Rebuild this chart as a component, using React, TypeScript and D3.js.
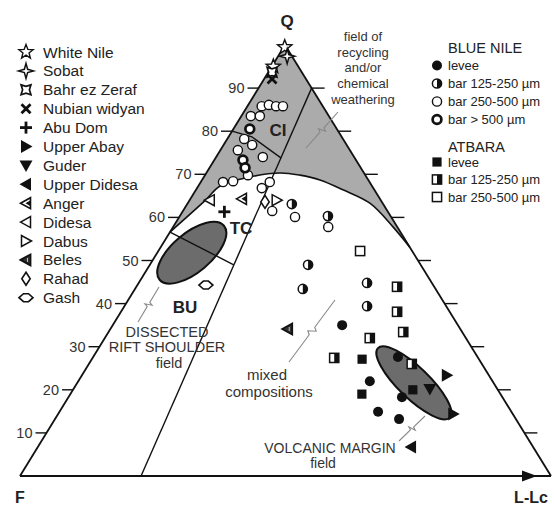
import React from 'react';
import * as d3 from 'd3';

// ---------- data (Q %, L-Lc %; F = 100 - Q - L) ----------
const qTicks = [10, 20, 30, 40, 50, 60, 70, 80, 90];

const whiteNile = [[99.5, 0.2], [95.0, 0.3]];
const sobat = [[97.4, 1.7]];
const bahrEzZeraf = [[93.7, 0.7]];
const nubianWidyan = [[92.1, 1.5]];
const abuDom = [[61.3, 7.9]];
const upperAbay = [[23.4, 68.7], [14.4, 74.4]];
const guder = [[20.2, 67.1]];
const upperDidesa = [[6.7, 70.3]];
const anger = [[64.3, 9.7]];
const didesa = [[64.0, 3.8]];
const dabus = [[64.0, 16.4]];
const beles = [[34.1, 33.4]];
const rahad = [[63.6, 14.4]];
const gash = [[44.3, 12.9]];

const blueLevee = [[35.0, 43.2], [27.6, 57.4], [22.0, 54.9], [18.3, 62.8], [14.9, 60.0], [13.2, 64.8]];
const blueBar125 = [[63.1, 19.7], [60.3, 27.9], [49.0, 29.8], [43.4, 31.6], [44.8, 43.0], [39.4, 45.7]];
const blueBar250 = [
  [85.8, 2.7], [86.1, 3.9], [85.8, 5.4], [85.8, 6.7], [83.5, 1.8], [83.5, 3.5],
  [78.2, 3.2], [76.8, 5.4], [75.6, 3.3], [74.0, 8.8], [69.8, 8.1], [68.2, 4.2],
  [68.4, 6.0], [66.8, 12.2], [68.2, 13.0], [61.5, 16.8], [60.1, 21.8], [57.8, 29.2],
];
const blueBar500 = [[80.5, 3.1], [73.3, 5.4], [71.5, 6.7]];
const atbaraLevee = [[27.1, 50.9], [19.0, 54.9], [20.0, 64.0]];
const atbaraBar125 = [[43.9, 49.1], [38.1, 52.0], [33.4, 55.5], [32.0, 49.9], [27.4, 45.5], [26.0, 60.8]];
const atbaraBar250 = [[52.2, 38.0]];

const riverNames = ['White Nile', 'Sobat', 'Bahr ez Zeraf', 'Nubian widyan', 'Abu Dom', 'Upper Abay', 'Guder',
  'Upper Didesa', 'Anger', 'Didesa', 'Dabus', 'Beles', 'Rahad', 'Gash'];
const riverSymbols = ['star5', 'star4', 'bahr', 'cross', 'plus', 'triR', 'triD', 'triL', 'triLhalf', 'triLopen',
  'triRopen', 'beles', 'diamond', 'hex'];
const riverData = [whiteNile, sobat, bahrEzZeraf, nubianWidyan, abuDom, upperAbay, guder, upperDidesa, anger,
  didesa, dabus, beles, rahad, gash];

const blueLabels = ['levee', 'bar 125-250 µm', 'bar 250-500 µm', 'bar > 500 µm'];
const blueSymbols = ['cFill', 'cHalf', 'cOpen', 'cThick'];
const blueData = [blueLevee, blueBar125, blueBar250, blueBar500];
const atbaraLabels = ['levee', 'bar 125-250 µm', 'bar 250-500 µm'];
const atbaraSymbols = ['sFill', 'sHalf', 'sOpen'];
const atbaraData = [atbaraLevee, atbaraBar125, atbaraBar250];

// field boundaries (Q, L)
const dickinsonLine = [[90, 10], [0, 22.8]];
const ciBoundary = [[80, 0], [78.7, 4.4], [73.8, 12.3]];
const tcBuBoundary = [[56.6, 0], [49, 15.8]];
const recyclingArc = [[56.6, 0], [64.0, 3.0], [67.3, 4.1], [69.4, 8.7], [70.3, 13.9], [69.8, 17.9],
  [68.7, 22.2], [66.4, 27.7], [63.3, 34.3], [57.8, 41.4], [53.1, 46.9]];
const riftFieldCenter = [51.8, 6.5];
const volcanicFieldCenter = [21.6, 63.4];

// ---------- geometry ----------
const FX = 20, LX = 551, QX = 285, BASE_Y = 476, TOP_Y = 45;
const yS = d3.scaleLinear().domain([0, 100]).range([BASE_Y, TOP_Y]);
const lS = d3.scaleLinear().domain([0, 100]).range([0, LX - FX]);
const qS = d3.scaleLinear().domain([0, 100]).range([0, QX - FX]);
const proj = (p: number[]) => [FX + lS(p[1]) + qS(p[0]), yS(p[0])];

const FONT = '"Liberation Sans", Arial, Helvetica, sans-serif';

function starPts(x: number, y: number, n: number, ro: number, ri: number, rot: number) {
  return d3.range(2 * n).map(i => {
    const a = rot + (i * Math.PI) / n;
    const r = i % 2 === 0 ? ro : ri;
    return [x + r * Math.cos(a), y + r * Math.sin(a)];
  }).join(' ');
}

function Sym({ t, x, y }: { t: string; x: number; y: number }) {
  const k = '#111';
  const r = 4.6;
  switch (t) {
    case 'star5':
      return <polygon points={starPts(x, y, 5, 7.5, 3.2, -Math.PI / 2)} fill="white" stroke={k} strokeWidth={1.4} />;
    case 'star4':
      return <polygon points={starPts(x, y, 4, 7.5, 2.3, -Math.PI / 2)} fill="white" stroke={k} strokeWidth={1.5} />;
    case 'bahr':
      return <polygon points={starPts(x, y, 4, 7, 3.4, -Math.PI / 4)} fill="white" stroke={k} strokeWidth={1.7} />;
    case 'cross':
      return <g stroke={k} strokeWidth={2.8}><line x1={x - 4.5} y1={y - 4.5} x2={x + 4.5} y2={y + 4.5} /><line x1={x - 4.5} y1={y + 4.5} x2={x + 4.5} y2={y - 4.5} /></g>;
    case 'plus':
      return <g stroke={k} strokeWidth={2.8}><line x1={x - 6} y1={y} x2={x + 6} y2={y} /><line x1={x} y1={y - 6} x2={x} y2={y + 6} /></g>;
    case 'triR':
      return <polygon points={`${x + 6.5},${y} ${x - 5},${y - 6.5} ${x - 5},${y + 6.5}`} fill={k} />;
    case 'triD':
      return <polygon points={`${x},${y + 6.5} ${x - 6.5},${y - 5} ${x + 6.5},${y - 5}`} fill={k} />;
    case 'triL':
      return <polygon points={`${x - 6.5},${y} ${x + 5},${y - 6.5} ${x + 5},${y + 6.5}`} fill={k} />;
    case 'triLopen':
      return <polygon points={`${x - 5.5},${y} ${x + 4.5},${y - 5.5} ${x + 4.5},${y + 5.5}`} fill="white" stroke={k} strokeWidth={1.5} />;
    case 'triRopen':
      return <polygon points={`${x + 5.5},${y} ${x - 4.5},${y - 5.5} ${x - 4.5},${y + 5.5}`} fill="white" stroke={k} strokeWidth={1.5} />;
    case 'triLhalf':
      return <g>
        <polygon points={`${x - 5.5},${y} ${x + 4.5},${y - 5.5} ${x + 4.5},${y + 5.5}`} fill="white" stroke={k} strokeWidth={1.6} />
        <polygon points={`${x - 0.5},${y} ${x + 4.5},${y - 3} ${x + 4.5},${y + 3}`} fill={k} />
      </g>;
    case 'beles':
      return <g>
        <polygon points={`${x - 5.5},${y} ${x + 4.5},${y - 5.5} ${x + 4.5},${y + 5.5}`} fill="#333" stroke={k} strokeWidth={1.8} />
        <line x1={x + 1.5} y1={y - 2} x2={x + 1.5} y2={y + 2} stroke="#bbb" strokeWidth={1} />
      </g>;
    case 'diamond':
      return <polygon points={`${x},${y - 6.5} ${x + 4.2},${y} ${x},${y + 6.5} ${x - 4.2},${y}`} fill="white" stroke={k} strokeWidth={1.6} />;
    case 'hex':
      return <polygon points={`${x - 7},${y} ${x - 2.5},${y - 4} ${x + 2.5},${y - 4} ${x + 7},${y} ${x + 2.5},${y + 4} ${x - 2.5},${y + 4}`} fill="white" stroke={k} strokeWidth={1.6} />;
    case 'cFill':
      return <circle cx={x} cy={y} r={r + 0.4} fill={k} />;
    case 'cHalf':
      return <g>
        <circle cx={x} cy={y} r={r} fill="white" />
        <path d={`M${x},${y - r} A${r},${r} 0 0 1 ${x},${y + r} Z`} fill={k} />
        <circle cx={x} cy={y} r={r} fill="none" stroke={k} strokeWidth={1.5} />
      </g>;
    case 'cOpen':
      return <circle cx={x} cy={y} r={r} fill="white" stroke={k} strokeWidth={1.4} />;
    case 'cThick':
      return <circle cx={x} cy={y} r={r - 0.2} fill="white" stroke={k} strokeWidth={2.7} />;
    case 'sFill':
      return <rect x={x - r} y={y - r} width={2 * r} height={2 * r} fill={k} />;
    case 'sHalf':
      return <g>
        <rect x={x - r} y={y - r} width={2 * r} height={2 * r} fill="white" />
        <rect x={x} y={y - r} width={r} height={2 * r} fill={k} />
        <rect x={x - r} y={y - r} width={2 * r} height={2 * r} fill="none" stroke={k} strokeWidth={1.5} />
      </g>;
    case 'sOpen':
      return <rect x={x - r} y={y - r} width={2 * r} height={2 * r} fill="white" stroke={k} strokeWidth={1.5} />;
    default:
      return null;
  }
}

function squiggle(x1: number, y1: number, x2: number, y2: number) {
  const dx = x2 - x1, dy = y2 - y1;
  const len = Math.hypot(dx, dy);
  const nx = -dy / len, ny = dx / len;
  const p = (t: number, o: number) => [x1 + dx * t + nx * o, y1 + dy * t + ny * o] as [number, number];
  return d3.line()([p(0, 0), p(0.44, 0), p(0.47, -3.5), p(0.53, 3.5), p(0.56, 0), p(1, 0)]) as string;
}

export default function App() {
  const apex = proj([100, 0]);
  const fV = proj([0, 0]);
  const lV = proj([0, 100]);

  const arcLine = d3.line().curve(d3.curveCatmullRom.alpha(0.5));
  const arcPts = recyclingArc.map(p => proj(p) as [number, number]);
  const arcD = arcLine(arcPts) as string;
  const grayD = `${arcD}L${apex[0]},${apex[1]}Z`;

  const straight = (pts: number[][]) => d3.line()(pts.map(p => proj(p) as [number, number])) as string;

  const rc = proj(riftFieldCenter);
  const vc = proj(volcanicFieldCenter);

  const textStyle = { fontFamily: FONT };

  return (
    <svg width={554} height={505} style={{ position: 'absolute', left: 0, top: 0, display: 'block', background: 'white' }}>
      {/* recycling / weathering field */}
      <path d={grayD} fill="#ababab" stroke="none" />
      {/* compositional fields */}
      <ellipse cx={rc[0]} cy={rc[1]} rx={42} ry={19.5} transform={`rotate(-40 ${rc[0]} ${rc[1]})`} fill="#6c6c6c" stroke="#111" strokeWidth={2} />
      <ellipse cx={vc[0]} cy={vc[1]} rx={50} ry={15.5} transform={`rotate(44 ${vc[0]} ${vc[1]})`} fill="#6c6c6c" stroke="#111" strokeWidth={2} />

      {/* internal boundaries */}
      <g fill="none" stroke="#111" strokeWidth={1.4}>
        <path d={straight(dickinsonLine)} />
        <path d={straight(ciBoundary)} />
        <path d={straight(tcBuBoundary)} />
        <path d={arcD} strokeWidth={1.6} />
      </g>

      {/* triangle */}
      <g stroke="#111" strokeWidth={1.8} fill="none">
        <line x1={fV[0]} y1={fV[1]} x2={apex[0]} y2={apex[1]} />
        <line x1={lV[0]} y1={lV[1]} x2={apex[0]} y2={apex[1]} />
        <line x1={fV[0]} y1={fV[1]} x2={lV[0]} y2={lV[1]} />
      </g>
      <polygon points={`${lV[0] - 14},${lV[1]} ${lV[0] - 29},${lV[1] - 5.5} ${lV[0] - 29},${lV[1] + 5.5}`} fill="#111" />

      {/* ticks */}
      {qTicks.map(q => {
        const a = proj([q, 0]);
        const b = proj([q, 100 - q]);
        return (
          <g key={q}>
            <line x1={a[0] - 11} y1={a[1]} x2={a[0]} y2={a[1]} stroke="#111" strokeWidth={1.4} />
            <line x1={b[0]} y1={b[1]} x2={b[0] + 13} y2={b[1]} stroke="#111" strokeWidth={1.4} />
            <text x={a[0] - 14} y={a[1] + 5} textAnchor="end" fontSize={14.5} fill="#333" style={textStyle}>{q}</text>
          </g>
        );
      })}

      {/* leaders */}
      <g fill="none" stroke="#888" strokeWidth={1.1}>
        <path d={squiggle(338, 112, 306, 148)} />
        <path d={squiggle(335, 300, 289, 362)} />
        <path d={squiggle(425, 416, 399, 441)} />
        <path d={squiggle(159, 287, 138, 322)} />
      </g>

      {/* data points */}
      {riverData.map((pts, i) => pts.map((p, j) => {
        const [x, y] = proj(p);
        return <Sym key={`r${i}-${j}`} t={riverSymbols[i]} x={x} y={y} />;
      }))}
      {blueData.map((pts, i) => pts.map((p, j) => {
        const [x, y] = proj(p);
        return <Sym key={`b${i}-${j}`} t={blueSymbols[i]} x={x} y={y} />;
      }))}
      {atbaraData.map((pts, i) => pts.map((p, j) => {
        const [x, y] = proj(p);
        return <Sym key={`a${i}-${j}`} t={atbaraSymbols[i]} x={x} y={y} />;
      }))}

      {/* vertex labels */}
      <g fontWeight="bold" fill="#222" style={textStyle}>
        <text x={287} y={27} textAnchor="middle" fontSize={17}>Q</text>
        <text x={20} y={503} textAnchor="middle" fontSize={16}>F</text>
        <text x={531} y={503} textAnchor="middle" fontSize={16}>L-Lc</text>
        <text x={278} y={136} textAnchor="middle" fontSize={17}>CI</text>
        <text x={241} y={234} textAnchor="middle" fontSize={17}>TC</text>
        <text x={185} y={313} textAnchor="middle" fontSize={17}>BU</text>
      </g>

      {/* field labels */}
      <g fill="#333" style={textStyle} textAnchor="middle">
        <text x={363} y={41} fontSize={13}>field of</text>
        <text x={363} y={56.5} fontSize={13}>recycling</text>
        <text x={363} y={72} fontSize={13}>and/or</text>
        <text x={363} y={88} fontSize={13}>chemical</text>
        <text x={363} y={104} fontSize={13}>weathering</text>
        <text x={167} y={337} fontSize={14.5}>DISSECTED</text>
        <text x={167} y={352} fontSize={14.5}>RIFT SHOULDER</text>
        <text x={169} y={368} fontSize={14.5}>field</text>
        <text x={267} y={380} fontSize={15}>mixed</text>
        <text x={269} y={397} fontSize={15}>compositions</text>
        <text x={330} y={453} fontSize={14}>VOLCANIC MARGIN</text>
        <text x={323} y={468} fontSize={14}>field</text>
      </g>

      {/* left legend */}
      {riverNames.map((n, i) => {
        const y = 52 + i * 18.9;
        return (
          <g key={n}>
            <Sym t={riverSymbols[i]} x={26} y={y} />
            <text x={43} y={y + 5.5} fontSize={15.5} fill="#222" style={textStyle}>{n}</text>
          </g>
        );
      })}

      {/* right legend */}
      <text x={448} y={53} fontSize={14.5} fill="#222" style={textStyle}>BLUE NILE</text>
      {blueLabels.map((n, i) => {
        const y = 65.5 + i * 18;
        return (
          <g key={'bl' + i}>
            <Sym t={blueSymbols[i]} x={437} y={y} />
            <text x={448} y={y + 4.5} fontSize={13} fill="#222" style={textStyle}>{n}</text>
          </g>
        );
      })}
      <text x={448} y={152} fontSize={14.5} fill="#222" style={textStyle}>ATBARA</text>
      {atbaraLabels.map((n, i) => {
        const y = 162 + i * 17.5;
        return (
          <g key={'al' + i}>
            <Sym t={atbaraSymbols[i]} x={437} y={y} />
            <text x={448} y={y + 4.5} fontSize={13} fill="#222" style={textStyle}>{n}</text>
          </g>
        );
      })}
    </svg>
  );
}
